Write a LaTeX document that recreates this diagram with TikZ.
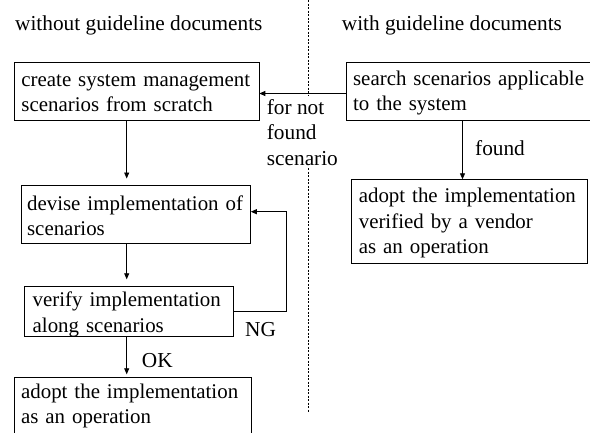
\documentclass[tikz,border=0pt]{standalone}
\usepackage{fontspec}
\setmainfont{Liberation Serif}
\usetikzlibrary{arrows.meta}
\newcommand\firstlift[1]{\rule{0pt}{#1}}
\begin{document}
\begin{tikzpicture}[x=1pt,y=-1pt,
  every node/.style={font=\fontsize{21.3}{25.5}\selectfont},
  box/.style={draw, line width=0.8pt, align=left, anchor=north west, inner xsep=7pt, inner ysep=0pt,
    font=\fontsize{20.9}{25.5}\selectfont},
  lbl/.style={inner sep=0pt, anchor=base west},
  arr/.style={line width=0.8pt, -{Triangle[length=6pt,width=5pt]}},
  divider/.style={line width=0.6pt, dash pattern=on 2pt off 1.5pt}]
\useasboundingbox (0,0) rectangle (590,432);
\clip (0,0) rectangle (590,432);
\hbadness=10000 \hfuzz=100pt
% divider
\coordinate (dtop) at (308.3,0);
\coordinate (dbot) at (308.3,412);
\draw[divider] (dtop) -- (dbot);
% headers
\node[lbl] (h1) at (15,30) {without guideline documents};
\node[lbl] (h2) at (341.7,30) {with guideline documents};
% boxes
\node[box, text width=230.5pt, minimum height=58pt] (create) at (14,62.3) {\mbox{\firstlift{15.1pt}create system management}\\\mbox{scenarios from scratch}};
\node[box, inner xsep=6pt, text width=217.3pt, minimum height=58.2pt] (devise) at (20.7,184.5) {\mbox{\firstlift{18.3pt}devise implementation of}\\\mbox{scenarios}};
\node[box, inner xsep=8.3pt, text width=192.7pt, minimum height=49pt] (verify) at (24,286) {\mbox{\firstlift{20.3pt}verify implementation}\\\mbox{along scenarios}};
\node[box, inner xsep=6.7pt, text width=223.3pt, minimum height=58pt] (adopt1) at (14,376.7) {\mbox{adopt the implementation}\\\mbox{as an operation}};
\node[box, inner xsep=7pt, text width=240pt, minimum height=57.7pt] (search) at (345.7,62.3) {\mbox{\firstlift{17.3pt}search scenarios applicable}\\\mbox{to the system}};
\node[box, inner xsep=7.7pt, text width=221.2pt, minimum height=84pt] (adopt2) at (350.7,179.3) {\mbox{\firstlift{17.3pt}adopt the implementation}\\\mbox{verified by a vendor}\\\mbox{as an operation}};
% labels
\node[fill=white, inner xsep=2pt, inner ysep=3pt, anchor=north west, align=left] (notfound) at (264.7,95.8) {for not\\found\\scenario};
\node[lbl] (found) at (475,155) {found};
\node[lbl] (ng) at (245,336.7) {NG};
\node[lbl] (ok) at (141.7,367.3) {OK};
% connectors
\coordinate (lx) at (126.7,0);
\coordinate (fx) at (462.5,0);
\coordinate (fy) at (0,93.5);
\coordinate (ngc) at (286,311.7);
\coordinate (ngt) at (286,211.7);
\draw[arr, shorten >=6pt] (create.south -| lx) -- (devise.north -| lx);
\draw[arr, shorten >=6.7pt] (devise.south -| lx) -- (verify.north -| lx);
\draw[arr, shorten >=2.4pt] (verify.south -| lx) -- (adopt1.north -| lx);
\draw[arr] (verify.east |- ngc) -- (ngc) -- (ngt) -- (devise.east |- ngt);
\draw[arr] (search.west |- fy) -- (create.east |- fy);
\draw[arr] (search.south -| fx) -- (adopt2.north -| fx);
\end{tikzpicture}
\end{document}
